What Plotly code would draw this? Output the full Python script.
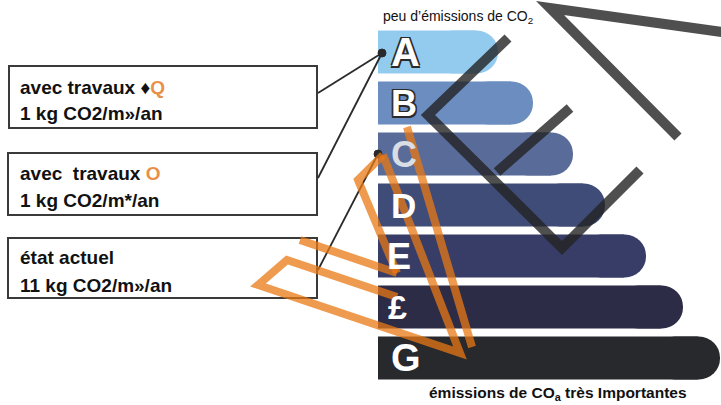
import plotly.graph_objects as go

# ---- data ----
grades = ["A", "B", "C", "D", "E", "F", "G"]
grade_labels = ["A", "B", "C", "D", "E", "£", "G"]
bar_lengths = [120, 155, 195, 227, 268, 305, 342]
bar_colors = ["#93cbef", "#6b8dc0", "#596c99", "#404c78", "#373d67", "#2d2c47", "#27292d"]
label_colors = ["#ffffff", "#ffffff", "#d9dde6", "#ffffff", "#ffffff", "#ffffff", "#ffffff"]
label_outline = [True, True, False, False, False, False, False]

box_line1 = ["avec travaux ♦<span style='color:#e8904a'>Q</span>",
             "avec  travaux <span style='color:#e8904a'>O</span>",
             "état actuel"]
box_line2 = ["1 kg CO2/m»/an", "1 kg CO2/m*/an", "11 kg CO2/m»/an"]
box_target = ["A", "A", "C"]

top_label = "peu d’émissions de CO<sub>2</sub>"
bottom_label = "émissions de CO<sub>a</sub> très Importantes"

W, H = 721, 405
BAR_START = 378
ROUND = 22  # radius of the rounded end, px
FONT = "Liberation Sans, Arial, sans-serif"


def px(x):
    return x / W


def py(y):
    return 1 - y / H


fig = go.Figure()
# square body of each bar
fig.add_trace(go.Bar(
    y=grades, x=[v - ROUND for v in bar_lengths], base=BAR_START, orientation="h",
    marker=dict(color=bar_colors, line=dict(width=0)),
    width=0.84, hoverinfo="skip", showlegend=False,
))
# rounded end of each bar
fig.add_trace(go.Bar(
    y=grades, x=[3 * ROUND] * len(grades), base=[BAR_START + v - 3 * ROUND for v in bar_lengths],
    orientation="h",
    marker=dict(color=bar_colors, line=dict(width=0), cornerradius=ROUND),
    width=0.84, hoverinfo="skip", showlegend=False,
))

shapes = []
annotations = []

# grade letters
letter_x = [405, 404, 404, 403, 399, 397, 406]
letter_size = [40, 36, 36, 35, 36, 34, 38]
for g, lab, c, o, lx, fs in zip(grades, grade_labels, label_colors, label_outline, letter_x, letter_size):
    shadow = ("1.5px 1.5px 0 #2a2a2a, -1.5px -1.5px 0 #2a2a2a, 1.5px -1.5px 0 #2a2a2a, "
              "-1.5px 1.5px 0 #2a2a2a") if o else "none"
    annotations.append(dict(
        x=lx, y=g, xref="x", yref="y", text=f"<b>{lab}</b>", showarrow=False,
        xanchor="center", yanchor="middle",
        font=dict(family=FONT, size=fs, color=c, shadow=shadow),
    ))

# text boxes
boxes = [(9, 66, 317, 128), (8, 153, 317, 215), (8, 238, 317, 298)]
line_y = [(88, 113), (173, 200), (257, 285)]
for (x0, y0, x1, y1), (ya, yb), t1, t2 in zip(boxes, line_y, box_line1, box_line2):
    shapes.append(dict(type="rect", xref="paper", yref="paper",
                       x0=px(x0), x1=px(x1), y0=py(y1), y1=py(y0),
                       line=dict(color="#3a3a3a", width=2), fillcolor="rgba(0,0,0,0)"))
    annotations.append(dict(x=px(18), y=py(ya), xref="paper", yref="paper", text=f"<b>{t1}</b>",
                            showarrow=False, xanchor="left", yanchor="middle",
                            font=dict(family=FONT, size=19, color="#111111")))
    annotations.append(dict(x=px(18), y=py(yb), xref="paper", yref="paper", text=f"<b>{t2}</b>",
                            showarrow=False, xanchor="left", yanchor="middle",
                            font=dict(family=FONT, size=19, color="#111111")))

# connectors
starts = [(318, 93), (318, 178), (318, 270)]
ends = {"A": (382, 53), "C": (378, 154)}
for (sx, sy), tg in zip(starts, box_target):
    ex, ey = ends[tg]
    shapes.append(dict(type="line", xref="paper", yref="paper",
                       x0=px(sx), y0=py(sy), x1=px(ex), y1=py(ey),
                       line=dict(color="#2a2a2a", width=1.8)))
for ex, ey in ends.values():
    r = 4
    shapes.append(dict(type="circle", xref="paper", yref="paper",
                       x0=px(ex - r), x1=px(ex + r), y0=py(ey + r), y1=py(ey - r),
                       fillcolor="#2a2a2a", line=dict(color="#2a2a2a", width=1)))


def path(pts):
    return "M " + " L ".join(f"{px(x):.5f},{py(y):.5f}" for x, y in pts)


# watermark (grey)
grey_paths = [
    [(722, 32), (550, 8), (678, 137)],
    [(508, 38), (428, 115), (562, 248), (640, 170)],
    [(570, 108), (497, 172)],
]
for p in grey_paths:
    shapes.append(dict(type="path", xref="paper", yref="paper", path=path(p),
                       line=dict(color="rgba(35,35,35,0.8)", width=10)))

# watermark (orange)
orange_paths = [
    [(407, 127), (472, 347)],
    [(383, 155), (460, 353), (258, 285), (287, 260), (397, 297)],
    [(383, 155), (358, 180), (397, 273)],
    [(300, 240), (397, 273)],
]
for p in orange_paths:
    shapes.append(dict(type="path", xref="paper", yref="paper", path=path(p),
                       line=dict(color="rgba(232,120,20,0.75)", width=8)))

annotations.append(dict(x=px(381), y=py(17), xref="paper", yref="paper", text=top_label,
                        showarrow=False, xanchor="left", yanchor="middle",
                        font=dict(family=FONT, size=14, color="#111111")))
annotations.append(dict(x=px(558), y=py(393), xref="paper", yref="paper", text=f"<b>{bottom_label}</b>",
                        showarrow=False, xanchor="center", yanchor="middle",
                        font=dict(family=FONT, size=15.5, color="#111111")))

fig.update_layout(
    width=W, height=H, margin=dict(l=0, r=0, t=0, b=0),
    paper_bgcolor="white", plot_bgcolor="white",
    barmode="overlay",
    xaxis=dict(range=[0, W], visible=False, fixedrange=True),
    yaxis=dict(type="category", categoryorder="array", categoryarray=grades,
               autorange="reversed", visible=False,
               domain=[1 - 383.5 / H, 1 - 26.5 / H], fixedrange=True),
    shapes=shapes, annotations=annotations, showlegend=False,
)

fig.write_html(
    "out.html",
    config={"displayModeBar": False},
    post_script="document.body.style.margin='0';document.body.style.overflow='hidden';",
)
